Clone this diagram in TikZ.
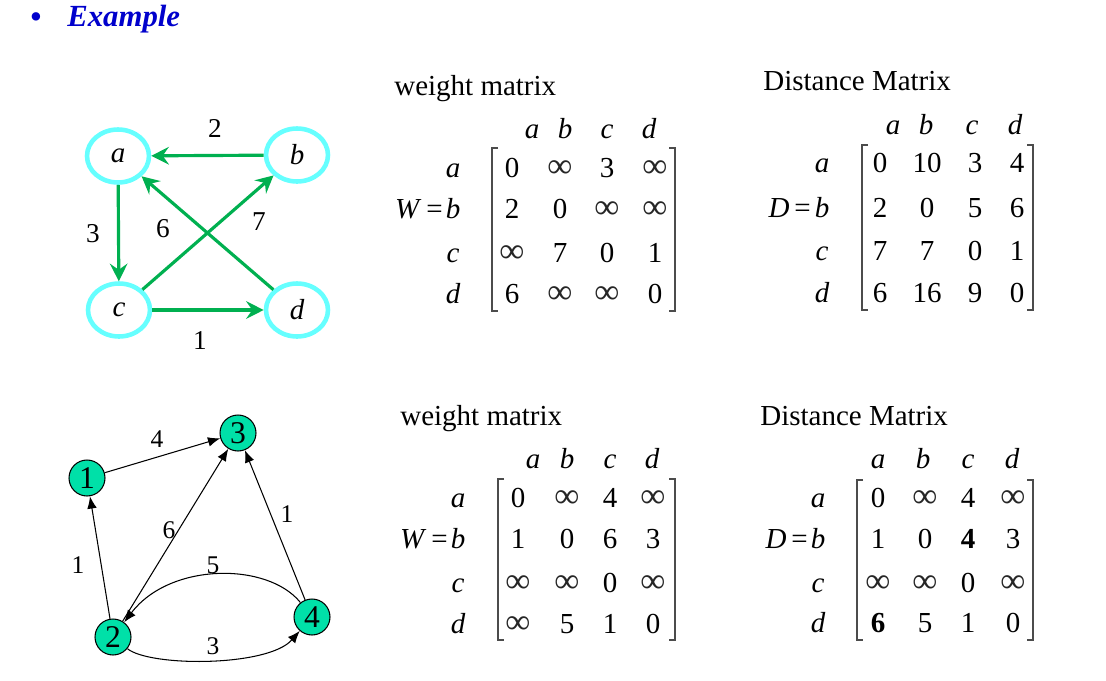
\documentclass[tikz,border=0pt]{standalone}
\usepackage{fontspec}
\setmainfont{Liberation Serif}
\usetikzlibrary{arrows.meta,shapes.geometric}
\definecolor{grn}{RGB}{0,176,80}
\definecolor{cyn}{RGB}{102,255,255}
\definecolor{tealfill}{RGB}{0,224,168}
\definecolor{blu}{RGB}{0,0,204}
\newcommand\myinf{{\fontsize{20}{20}\selectfont\color{black!85}∞}}
\begin{document}
\begin{tikzpicture}[x=0.02cm,y=-0.02cm,
  txt/.style={font=\fontsize{16.5}{19}\selectfont, inner sep=0, anchor=base},
  itx/.style={txt, font=\fontsize{16.5}{19}\selectfont\itshape},
  brk/.style={line width=0.8pt, draw=black!70},
  gnode/.style={ellipse, draw=cyn, line width=2.6pt, minimum width=1.24cm, minimum height=1.06cm, inner sep=0, font=\fontsize{16.5}{19}\selectfont\itshape},
  gedge/.style={draw=grn, line width=1.8pt, -{Stealth[length=10pt,width=10pt,inset=3.5pt]}},
  glab/.style={txt, font=\fontsize{15.5}{18}\selectfont},
  bnode/.style={circle, draw=black, line width=0.6pt, fill=tealfill, minimum size=0.72cm, inner sep=0, font=\fontsize{18}{20}\selectfont},
  bedge/.style={draw=black, line width=0.6pt, -{Latex[length=7pt,width=5.5pt]}},
  blab/.style={txt, font=\fontsize{14.5}{17}\selectfont}]
\useasboundingbox (0,0) rectangle (1106,680);
% title
\node[txt, text=blu, font=\fontsize{20}{20}\selectfont] (bul) at (36,28) {•};
\node[txt, anchor=base west, text=blu, font=\fontsize{17.5}{20}\selectfont\bfseries\itshape] (title) at (67,26) {Example};

% ---------- graph 1 ----------
\node[gnode] (a) at (118,156) {a};
\node[gnode] (b) at (297,155) {b};
\node[gnode] (c) at (119,310) {c};
\node[gnode] (d) at (297,310) {d};
\draw[gedge] (b) -- (a);
\draw[gedge] (a) -- (c);
\draw[gedge] (c) -- (d);
\draw[gedge] (c) -- (b);
\draw[gedge] (d) -- (a);
\node[glab] (l2) at (215,137) {2};
\node[glab] (l3) at (93,242) {3};
\node[glab] (l6) at (163,237) {6};
\node[glab] (l7) at (259,230) {7};
\node[glab] (l1) at (200,349) {1};

% ---------- matrix W (top) ----------
\node[txt, anchor=base west] (wt1) at (394,95) {weight matrix};
\foreach \n/\x in {a/532,b/565,c/607,d/649} \node[itx] (W1h\n) at (\x,138) {\n};
\foreach \r/\y/\p/\q/\s/\t in {a/177/0/\myinf/3/\myinf, b/218/2/0/\myinf/\myinf, c/262/\myinf/7/0/1, d/303/6/\myinf/\myinf/0}{
  \node[itx] (W1r\r) at (453,\y) {\r};
  \node[txt] (W1\r a) at (512,\y) {\p};
  \node[txt] (W1\r b) at (560,\y) {\q};
  \node[txt] (W1\r c) at (607,\y) {\s};
  \node[txt] (W1\r d) at (655,\y) {\t};
}
\node[txt, anchor=base east] (W1eq) at (443,218) {\textit{W}\,=};
\draw[brk] (498,148) -- (492,148) -- (492,311) -- (498,311);
\draw[brk] (669,148) -- (675,148) -- (675,311) -- (669,311);

% ---------- matrix D (top) ----------
\node[txt, anchor=base west] (dt1) at (763,90) {Distance Matrix};
\foreach \n/\x in {a/893,b/926,c/972,d/1015} \node[itx] (D1h\n) at (\x,134) {\n};
\foreach \r/\y/\p/\q/\s/\t in {a/172/0/10/3/4, b/217/2/0/5/6, c/260/7/7/0/1, d/302/6/16/9/0}{
  \node[itx] (D1r\r) at (822,\y) {\r};
  \node[txt] (D1\r a) at (880,\y) {\p};
  \node[txt] (D1\r b) at (927,\y) {\q};
  \node[txt] (D1\r c) at (975,\y) {\s};
  \node[txt] (D1\r d) at (1017,\y) {\t};
}
\node[txt, anchor=base east] (D1eq) at (811,217) {\textit{D}\,=};
\draw[brk] (868,145) -- (862,145) -- (862,310) -- (868,310);
\draw[brk] (1027,145) -- (1033,145) -- (1033,310) -- (1027,310);

% ---------- graph 2 ----------
\node[bnode] (n1) at (87,478) {1};
\node[bnode] (n3) at (238,433) {3};
\node[bnode] (n2) at (113,637) {2};
\node[bnode] (n4) at (312,617) {4};
\draw[bedge] (n1) -- (n3);
\draw[bedge] (n2) -- (n1);
\draw[bedge] (n2) -- (n3);
\draw[bedge] (n4) -- (n3);
\draw[bedge] (n4) .. controls (268,562) and (170,562) .. (n2);
\draw[bedge] (n2) .. controls (150,667) and (268,667) .. (n4);
\node[blab] (m4) at (157,447) {4};
\node[blab] (m1a) at (78,573) {1};
\node[blab] (m6) at (169,538) {6};
\node[blab] (m5) at (213,573) {5};
\node[blab] (m3) at (213,654) {3};
\node[blab] (m1b) at (287,522) {1};

% ---------- matrix W (bottom) ----------
\node[txt, anchor=base west] (wt2) at (400,425) {weight matrix};
\foreach \n/\x in {a/533,b/567,c/610,d/652} \node[itx] (W2h\n) at (\x,468) {\n};
\foreach \r/\y/\p/\q/\s/\t in {a/507/0/\myinf/4/\myinf, b/548/1/0/6/3, c/592/\myinf/\myinf/0/\myinf, d/633/\myinf/5/1/0}{
  \node[itx] (W2r\r) at (458,\y) {\r};
  \node[txt] (W2\r a) at (518,\y) {\p};
  \node[txt] (W2\r b) at (567,\y) {\q};
  \node[txt] (W2\r c) at (610,\y) {\s};
  \node[txt] (W2\r d) at (653,\y) {\t};
}
\node[txt, anchor=base east] (W2eq) at (448,548) {\textit{W}\,=};
\draw[brk] (504,479) -- (498,479) -- (498,640) -- (504,640);
\draw[brk] (669,479) -- (675,479) -- (675,640) -- (669,640);

% ---------- matrix D (bottom) ----------
\node[txt, anchor=base west] (dt2) at (760,425) {Distance Matrix};
\foreach \n/\x in {a/878,b/923,c/968,d/1012} \node[itx] (D2h\n) at (\x,468) {\n};
\foreach \r/\y/\p/\q/\s/\t in {a/507/0/\myinf/4/\myinf, b/548/1/0/\textbf{4}/3, c/592/\myinf/\myinf/0/\myinf, d/632/\textbf{6}/5/1/0}{
  \node[itx] (D2r\r) at (818,\y) {\r};
  \node[txt] (D2\r a) at (878,\y) {\p};
  \node[txt] (D2\r b) at (925,\y) {\q};
  \node[txt] (D2\r c) at (968,\y) {\s};
  \node[txt] (D2\r d) at (1013,\y) {\t};
}
\node[txt, anchor=base east] (D2eq) at (808,548) {\textit{D}\,=};
\draw[brk] (863,480) -- (857,480) -- (857,640) -- (863,640);
\draw[brk] (1027,480) -- (1033,480) -- (1033,640) -- (1027,640);
\end{tikzpicture}
\end{document}
